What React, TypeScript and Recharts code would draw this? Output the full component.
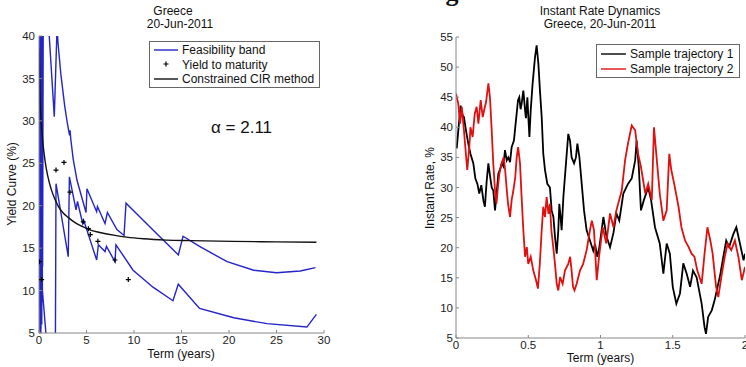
import React from "react";
import { ComposedChart, LineChart, Line, Scatter, XAxis, YAxis } from "recharts";

type Pt = { x: number; y: number };
const pts = (arr: number[][]): Pt[] => arr.map(([x, y]) => ({ x, y }));

// ---- left panel: yield curve, Greece 20-Jun-2011 ----
const termTicks = [0, 5, 10, 15, 20, 25, 30];
const yieldTicks = [5, 10, 15, 20, 25, 30, 35, 40];

const upperBand = pts([
  [0, 33], [0.03, 44], [0.07, 8], [0.12, 44], [0.17, 5.5], [0.22, 44], [0.27, 14],
  [0.32, 44], [0.38, 12.8], [0.45, 44], [0.95, 42.3], [1.61, 30.5], [1.9, 41],
  [2.0, 39.2], [2.3, 35.5], [2.7, 31.8], [3.0, 29.6], [3.22, 28.3], [3.27, 28.9],
  [3.35, 27.8], [3.6, 25.5], [4.0, 23], [4.5, 21], [4.95, 19.2], [5.05, 22],
  [6.07, 19.3], [6.15, 19.9], [6.95, 17.9], [7.2, 19.2], [8.2, 17.2], [8.95, 16.5],
  [9.16, 20.3], [10.6, 18.7], [12.4, 16.7], [13.4, 15.6], [14.67, 14.2], [15.16, 16.4],
  [16.9, 15.2], [19.8, 13.4], [22.6, 12.4], [25, 12.1], [27.5, 12.3], [29.1, 12.7],
]);

const lowerBand = pts([
  [0, 13], [0.04, 33], [0.09, 3], [0.14, 38], [0.19, 4], [0.24, 30], [0.29, 6],
  [0.33, 20], [0.36, 10], [0.76, 4.5], [0.85, 2], [1.72, 2], [1.79, 22.6],
  [3.08, 14], [3.2, 23.4], [3.9, 19.5], [4.05, 20.5], [4.6, 17.9], [4.7, 18.3],
  [6.07, 13.6], [6.25, 15.4], [6.95, 14.6], [7.1, 15.2], [8.0, 13.4], [8.1, 15.4],
  [9.9, 12.4], [12.0, 10.4], [14.1, 8.8], [14.66, 10.75], [16.9, 7.9], [20.5, 6.8],
  [24, 6.1], [28.2, 5.7], [29.2, 7.2],
]);

const yieldToMaturity = pts([
  [0.03, 13.4], [0.28, 11.3], [1.79, 24.2], [2.63, 25.1], [3.26, 21.6], [4.66, 18.1],
  [5.2, 17.3], [5.4, 16.6], [6.2, 15.8], [8.0, 13.6], [9.4, 11.3],
]);

const cirCurve = pts([
  [0.02, 38.5], [0.06, 35.3], [0.1, 33], [0.18, 30.8], [0.3, 28.8], [0.45, 27],
  [0.65, 25.2], [0.9, 23.6], [1.3, 21.9], [1.7, 20.7], [2.05, 19.9], [2.5, 19.2],
  [3.1, 18.6], [3.8, 18], [4.66, 17.5], [5.5, 17.1], [6.4, 16.85], [8, 16.5],
  [9.2, 16.3], [11, 16.1], [13.4, 15.95], [16, 15.88], [20.4, 15.8], [25, 15.74],
  [29.2, 15.7],
]);

// ---- right panel: instant rate dynamics ----
const shortTermTicks = [0, 0.5, 1, 1.5, 2];
const rateTicks = [5, 10, 15, 20, 25, 30, 35, 40, 45, 50, 55];

const trajectory1 = pts([
  [0.005, 36.5], [0.016, 39.5], [0.032, 43.6], [0.046, 42], [0.055, 41.7], [0.069, 39.5],
  [0.085, 37.3], [0.1, 35.6], [0.12, 34], [0.134, 31.5], [0.148, 30.6], [0.161, 29],
  [0.175, 30.4], [0.19, 27.8], [0.2, 26.8], [0.212, 31], [0.224, 34], [0.235, 32],
  [0.247, 30], [0.258, 29.5], [0.27, 26.2], [0.281, 29], [0.293, 32.3], [0.305, 33],
  [0.316, 34], [0.328, 33.5], [0.339, 36.2], [0.351, 34.5], [0.362, 35], [0.374, 34.2],
  [0.385, 36.7], [0.401, 37.8], [0.41, 40], [0.42, 42.3], [0.429, 44.5], [0.438, 45],
  [0.447, 43], [0.454, 43.9], [0.466, 46.1], [0.478, 42.8], [0.484, 41.5], [0.494, 45],
  [0.5, 42], [0.508, 38.4], [0.517, 42.8], [0.53, 47.2], [0.547, 51.7], [0.558, 53.6],
  [0.57, 50.6], [0.581, 46.1], [0.593, 41.7], [0.604, 35.6], [0.616, 32.9], [0.632, 30.6],
  [0.65, 30], [0.662, 26.2], [0.674, 25.1], [0.685, 21.8], [0.697, 19], [0.708, 22.9],
  [0.715, 27.3], [0.724, 25], [0.731, 22.9], [0.743, 28.4], [0.761, 34], [0.777, 38.9],
  [0.789, 37.8], [0.8, 35], [0.817, 34], [0.83, 35], [0.84, 37.3], [0.854, 35],
  [0.87, 30.6], [0.886, 26.2], [0.904, 22.9], [0.927, 21.2], [0.95, 19.5], [0.962, 20.6],
  [0.978, 18.5], [0.992, 20.1], [1.02, 25.1], [1.04, 22], [1.066, 20.1], [1.09, 22.5],
  [1.11, 25.7], [1.13, 24.5], [1.158, 29], [1.19, 30.6], [1.216, 31.5], [1.24, 34.5],
  [1.25, 37.8], [1.265, 33.4], [1.28, 26.2], [1.3, 27.9], [1.33, 30], [1.35, 27.9],
  [1.377, 23.4], [1.41, 20.7], [1.435, 15.7], [1.458, 20.7], [1.48, 19], [1.5, 13.5],
  [1.525, 10.7], [1.55, 12.4], [1.573, 17.4], [1.596, 15.7], [1.62, 13.5], [1.64, 16.2],
  [1.665, 15.1], [1.7, 10.7], [1.72, 6.8], [1.73, 5.7], [1.745, 8.5], [1.77, 9.6],
  [1.79, 11.3], [1.83, 15.7], [1.85, 18.5], [1.87, 21.2], [1.89, 20.1], [1.92, 22.3],
  [1.94, 23.4], [1.965, 20.7], [1.99, 17.9], [2.0, 19],
]);

const trajectory2 = pts([
  [0, 45.6], [0.016, 43.9], [0.028, 40.6], [0.04, 43.4], [0.055, 39.5], [0.07, 35.1],
  [0.078, 32.9], [0.092, 36.7], [0.1, 40], [0.115, 38.4], [0.13, 42.3], [0.143, 43.4],
  [0.155, 40.6], [0.171, 44.5], [0.185, 41.7], [0.196, 43], [0.208, 44.2], [0.224, 47.3],
  [0.235, 45], [0.247, 39.5], [0.258, 34], [0.27, 29.5], [0.28, 27.3], [0.29, 30],
  [0.3, 32.3], [0.316, 34], [0.33, 35], [0.34, 32.9], [0.35, 30], [0.36, 27.3],
  [0.374, 25.1], [0.385, 27.9], [0.397, 29.5], [0.41, 31.7], [0.42, 35], [0.43, 36.7],
  [0.443, 34], [0.454, 28.4], [0.466, 22.9], [0.478, 18.5], [0.49, 20.1], [0.5, 17.3],
  [0.517, 18.5], [0.535, 16.2], [0.554, 14.6], [0.567, 13.2], [0.58, 17.3], [0.593, 22.9],
  [0.604, 26.8], [0.616, 25.1], [0.627, 28.4], [0.64, 25.6], [0.65, 27.3], [0.66, 22.9],
  [0.673, 20.1], [0.685, 17.3], [0.697, 14], [0.708, 12.9], [0.72, 15.1], [0.738, 14],
  [0.754, 16.2], [0.777, 17.3], [0.79, 18.5], [0.8, 16.2], [0.81, 13.5], [0.82, 12.9],
  [0.835, 14], [0.858, 16.2], [0.88, 17.3], [0.904, 19.6], [0.927, 22.9], [0.94, 24.5],
  [0.955, 22.9], [0.974, 14.6], [0.99, 18.5], [1.015, 23.4], [1.04, 20.7], [1.066, 25.7],
  [1.09, 23.4], [1.11, 26.2], [1.147, 29.5], [1.17, 34.5], [1.19, 37.3], [1.216, 40.3],
  [1.24, 39.5], [1.26, 35.6], [1.28, 33.4], [1.31, 29], [1.33, 30.6], [1.355, 27.9],
  [1.37, 40], [1.39, 34.5], [1.41, 29], [1.435, 24.5], [1.458, 26.2], [1.476, 35.6],
  [1.49, 32.9], [1.51, 30.6], [1.54, 26.8], [1.56, 23.4], [1.585, 21.2], [1.61, 20.1],
  [1.63, 19], [1.65, 18.5], [1.67, 16.2], [1.7, 14], [1.72, 19], [1.74, 23.4],
  [1.76, 21.2], [1.776, 19], [1.8, 13.5], [1.815, 11.8], [1.84, 15.7], [1.86, 18.5],
  [1.88, 20.7], [1.905, 19.6], [1.93, 21.2], [1.954, 18.5], [1.978, 14.6], [2.0, 16.8],
]);

const FONT = "'Liberation Sans', Arial, sans-serif";
const BLUE = "#2424c8";
const RED = "#e01010";
const axisStyle = { stroke: "#888" };
const tickStyle = { fontSize: 11.5, fill: "#222", fontFamily: FONT };

const Plus = (props: any) => {
  const { cx, cy } = props;
  if (cx == null || cy == null) return null;
  return (
    <path
      d={`M${cx - 2.5},${cy}h5M${cx},${cy - 2.5}v5`}
      stroke="#000"
      strokeWidth={1.2}
      fill="none"
    />
  );
};

const fmtTerm = (v: number) => String(v);

const App: React.FC = () => {
  return (
    <div style={{ position: "absolute", left: 0, top: 0, width: 746, height: 367, background: "#fff", overflow: "hidden" }}>
      <div style={{ position: "absolute", left: 0, top: 0 }}>
        <ComposedChart width={373} height={367} margin={{ top: 36, right: 49, bottom: 14, left: 0 }}>
          <XAxis
            type="number"
            dataKey="x"
            domain={[0, 30]}
            ticks={termTicks}
            interval={0}
            allowDataOverflow
            height={20}
            tickSize={-3}
            tickMargin={6}
            axisLine={axisStyle}
            tickLine={axisStyle}
            tick={tickStyle}
          />
          <YAxis
            type="number"
            dataKey="y"
            domain={[5, 40]}
            ticks={yieldTicks}
            interval={0}
            allowDataOverflow
            width={39}
            tickSize={-3}
            tickMargin={7}
            axisLine={axisStyle}
            tickLine={axisStyle}
            tick={tickStyle}
          />
          <Line data={upperBand} dataKey="y" type="linear" stroke={BLUE} strokeWidth={1.4} dot={false} isAnimationActive={false} />
          <Line data={lowerBand} dataKey="y" type="linear" stroke={BLUE} strokeWidth={1.4} dot={false} isAnimationActive={false} />
          <Scatter data={yieldToMaturity} dataKey="y" shape={<Plus />} isAnimationActive={false} />
          <Line data={cirCurve} dataKey="y" type="monotone" stroke="#111" strokeWidth={1.4} dot={false} isAnimationActive={false} />
        </ComposedChart>
      </div>

      <div style={{ position: "absolute", left: 373, top: 0 }}>
        <LineChart width={373} height={367} margin={{ top: 37, right: 1, bottom: 9, left: 40 }}>
          <XAxis
            type="number"
            dataKey="x"
            domain={[0, 2]}
            ticks={shortTermTicks}
            tickFormatter={fmtTerm}
            interval={0}
            allowDataOverflow
            height={20}
            tickSize={-3}
            tickMargin={6}
            axisLine={axisStyle}
            tickLine={axisStyle}
            tick={tickStyle}
          />
          <YAxis
            type="number"
            dataKey="y"
            domain={[5, 55]}
            ticks={rateTicks}
            interval={0}
            allowDataOverflow
            width={43}
            tickSize={-3}
            tickMargin={6}
            axisLine={axisStyle}
            tickLine={axisStyle}
            tick={tickStyle}
          />
          <Line data={trajectory1} dataKey="y" type="linear" stroke="#000" strokeWidth={1.8} dot={false} isAnimationActive={false} />
          <Line data={trajectory2} dataKey="y" type="linear" stroke={RED} strokeWidth={1.8} dot={false} isAnimationActive={false} />
        </LineChart>
      </div>

      <svg width={746} height={367} style={{ position: "absolute", left: 0, top: 0, pointerEvents: "none" }} fontFamily={FONT} fill="#111">
        <text x={452} y={1} fontSize={26} fontWeight="bold" fontFamily="'Liberation Serif', serif" textAnchor="middle">g</text>

        <text x={173} y={15} fontSize={12} textAnchor="middle">Greece</text>
        <text x={180} y={27.5} fontSize={12} textAnchor="middle">20-Jun-2011</text>
        <text x={181} y={358} fontSize={12} textAnchor="middle">Term (years)</text>
        <text x={16} y={184} fontSize={12} textAnchor="middle" transform="rotate(-90 16 184)">Yield Curve (%)</text>
        <text x={211} y={133} fontSize={17}>α = 2.11</text>

        <rect x={149.5} y={41.5} width={170} height={46} fill="#fff" stroke="#666" strokeWidth={1} />
        <line x1={154} y1={50} x2={178} y2={50} stroke={BLUE} strokeWidth={1.4} />
        <text x={182} y={54} fontSize={12}>Feasibility band</text>
        <path d="M163.5,64h5M166,61.5v5" stroke="#000" strokeWidth={1.2} />
        <text x={182} y={68.5} fontSize={12}>Yield to maturity</text>
        <line x1={154} y1={79} x2={178} y2={79} stroke="#111" strokeWidth={1.4} />
        <text x={182} y={83} fontSize={12}>Constrained CIR method</text>

        <text x={600} y={15} fontSize={12} textAnchor="middle">Instant Rate Dynamics</text>
        <text x={600} y={27.5} fontSize={12} textAnchor="middle">Greece, 20-Jun-2011</text>
        <text x={600.5} y={362} fontSize={12} textAnchor="middle">Term (years)</text>
        <text x={433.5} y={188} fontSize={12} textAnchor="middle" transform="rotate(-90 433.5 188)">Instant Rate, %</text>

        <rect x={596.5} y={44.5} width={143} height={33} fill="#fff" stroke="#666" strokeWidth={1} />
        <line x1={601} y1={54} x2={626} y2={54} stroke="#000" strokeWidth={1.4} />
        <text x={630} y={58} fontSize={12}>Sample trajectory 1</text>
        <line x1={601} y1={69} x2={626} y2={69} stroke={RED} strokeWidth={1.4} />
        <text x={630} y={73} fontSize={12}>Sample trajectory 2</text>
      </svg>
    </div>
  );
};

export default App;
